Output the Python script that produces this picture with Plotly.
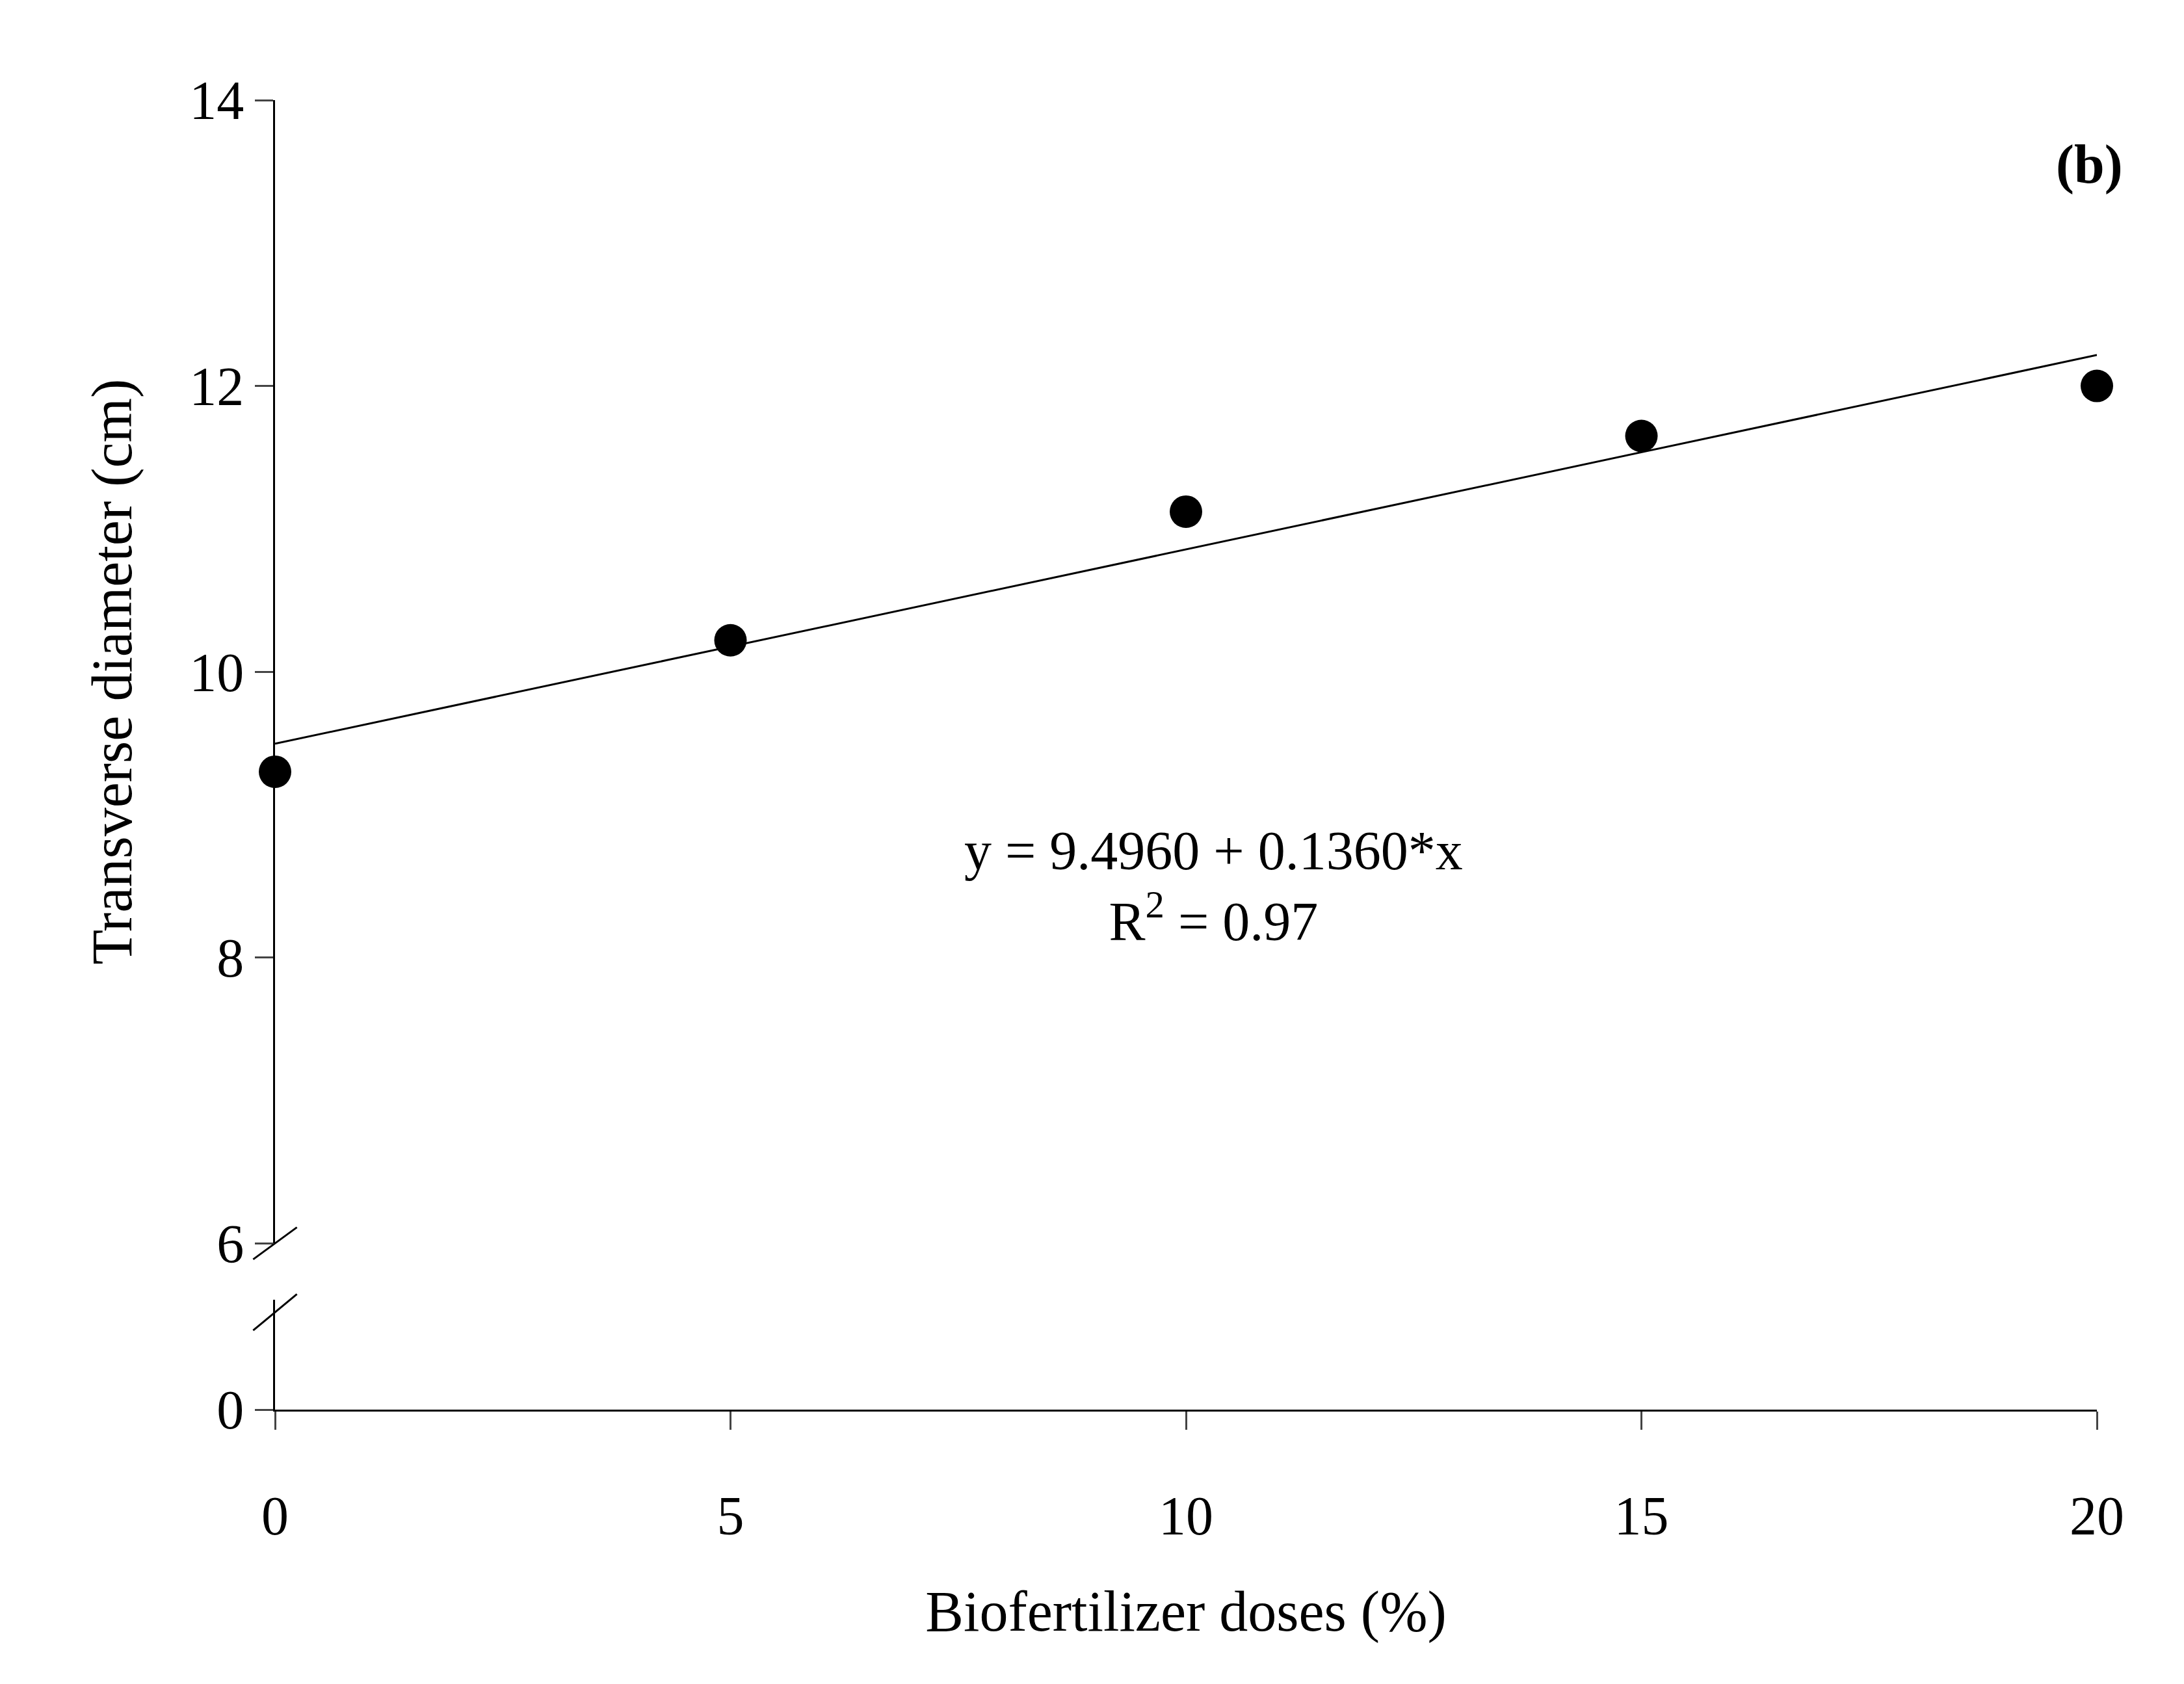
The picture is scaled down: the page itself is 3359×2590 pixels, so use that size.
import plotly.graph_objects as go

# data
doses = [0, 5, 10, 15, 20]
diameter = [9.30, 10.22, 11.12, 11.65, 12.00]
intercept = 9.4960
slope = 0.1360
fit_x = [0, 20]
fit_y = [intercept + slope * v for v in fit_x]

serif = "Liberation Serif"

fig = go.Figure()
fig.add_trace(go.Scatter(x=fit_x, y=fit_y, mode="lines",
                         line=dict(color="black", width=3),
                         xaxis="x", yaxis="y", cliponaxis=False))
fig.add_trace(go.Scatter(x=doses, y=diameter, mode="markers",
                         marker=dict(color="black", size=50),
                         xaxis="x", yaxis="y", cliponaxis=False))
# invisible trace so the lower (broken) axis segment is drawn
fig.add_trace(go.Scatter(x=[0], y=[0], mode="markers", opacity=0,
                         xaxis="x", yaxis="y2", hoverinfo="skip"))

fig.update_layout(
    width=3359, height=2590,
    margin=dict(l=415, r=142, t=146, b=430),
    paper_bgcolor="white", plot_bgcolor="white",
    showlegend=False,
    font=dict(family=serif, color="black", size=84),
    xaxis=dict(range=[0, 20], anchor="y2", tickvals=doses,
               showline=True, linecolor="black", linewidth=3,
               ticks="outside", ticklen=28, tickwidth=3, showgrid=False,
               zeroline=False, ticklabelstandoff=60,
               title=dict(text="Biofertilizer doses (%)", font=dict(size=88), standoff=70)),
    yaxis=dict(range=[6, 14], domain=[0.127, 1], anchor="x",
               tickvals=[6, 8, 10, 12, 14],
               showline=True, linecolor="black", linewidth=3,
               ticks="outside", ticklen=28, tickwidth=3, showgrid=False,
               zeroline=False,
               title=dict(text="Transverse diameter (cm)", font=dict(size=88), standoff=60)),
    yaxis2=dict(range=[0, 1], domain=[0, 0.084], anchor="x",
                tickvals=[0], showline=True, linecolor="black", linewidth=3,
                ticks="outside", ticklen=28, tickwidth=3, showgrid=False,
                zeroline=False),
)

# axis break marks
fig.add_shape(type="line", xref="x domain", yref="y domain", x0=-0.012, x1=0.012,
              y0=-0.014, y1=0.014, line=dict(color="black", width=3))
fig.add_shape(type="line", xref="x domain", yref="y2 domain", x0=-0.012, x1=0.012,
              y0=0.72, y1=1.05, line=dict(color="black", width=3))

fig.add_annotation(xref="x", yref="y", x=10.3, y=8.5, showarrow=False,
                   text="y = 9.4960 + 0.1360*x<br>R<sup>2</sup> = 0.97",
                   font=dict(size=84), align="center")
fig.add_annotation(xref="paper", yref="paper", x=1.015, y=0.975, showarrow=False,
                   text="<b>(b)</b>", font=dict(size=84), xanchor="right")

fig.write_html("out.html")
